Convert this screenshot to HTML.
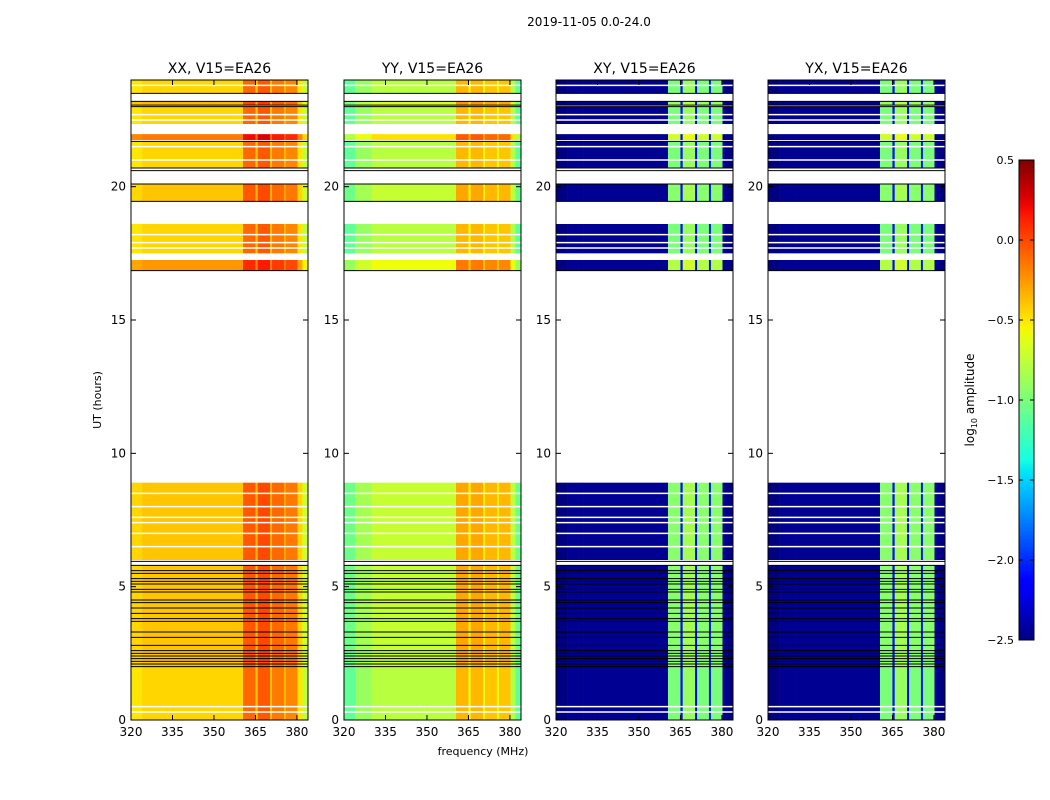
<!DOCTYPE html>
<html><head><meta charset="utf-8"><style>
body{margin:0;background:#fff;}
svg{display:block;font-family:"DejaVu Sans","Liberation Sans",sans-serif;}
</style></head><body>
<svg id="fig" width="1050" height="800" viewBox="0 0 1050 800"></svg>
<script>
// ---- data ----
const freqEdges = [320,324,330,360.5,365,365.8,370.3,371,375.3,376,380.2,382,384];
const panelTitles = ["XX, V15=EA26","YY, V15=EA26","XY, V15=EA26","YX, V15=EA26"];
const valsXX = [-0.5,-0.45,-0.45,-0.1,-0.4,-0.05,-0.4,-0.15,-0.35,-0.2,-0.5,-0.75];
const valsYY = [-1.1,-0.9,-0.78,-0.35,-0.6,-0.35,-0.6,-0.4,-0.6,-0.4,-0.8,-1.1];
const valsXY = [-2.5,-2.45,-2.45,-1.0,-2.1,-0.9,-2.2,-1.0,-2.1,-1.0,-2.45,-2.5];
const valsYX = [-2.5,-2.45,-2.45,-1.0,-2.1,-0.9,-2.2,-1.0,-2.1,-1.0,-2.45,-2.5];
const blockStart = [0,2.0,6.0,16.85,17.5,19.45,20.7,21.75,22.35,23.06,23.5];
const blockEnd   = [2.0,5.8,8.9,17.25,18.6,20.1,21.7,21.97,23.0,23.2,24];
const blockOffset= [0,0.05,0.05,0.2,0,0.05,0,0.3,0,0.1,0];
const whiteLines = [0.3,0.5,6.5,7.0,7.4,7.6,8.0,8.5,17.7,17.9,18.2,21.0,21.5,22.5,22.7,23.8];
const blackLines = [2.0,2.1,2.2,2.3,2.4,2.5,2.6,2.8,3.1,3.3,3.7,3.8,4.0,4.2,4.4,4.5,4.8,4.9,5.1,5.2,5.3,5.5,5.6,5.8,5.95,16.85,19.45,20.1,20.6,20.7,21.7,23.0,23.06,23.2,23.5];
const yTicks = [0,5,10,15,20];
const xTicks = [320,335,350,365,380];
const cbTicks = [0.5,0.0,-0.5,-1.0,-1.5,-2.0,-2.5];
const panelVals = [valsXX,valsYY,valsXY,valsYX];

// ---- helpers ----
const NS="http://www.w3.org/2000/svg";
const svg=document.getElementById('fig');
function mk(tag,attrs,parent){const e=document.createElementNS(NS,tag);for(const k in attrs)e.setAttribute(k,attrs[k]);(parent||svg).appendChild(e);return e;}
function clamp(v){return Math.max(0,Math.min(1,v));}
function jet(t){t=clamp(t);
 const r=clamp(t<0.35?0:t<0.66?(t-0.35)/0.31:t<0.89?1:1-(t-0.89)/0.11*0.5);
 const g=clamp(t<0.125?0:t<0.375?(t-0.125)/0.25:t<0.64?1:t<0.91?1-(t-0.64)/0.27:0);
 const b=clamp(t<0.11?0.5+t/0.11*0.5:t<0.34?1:t<0.65?1-(t-0.34)/0.31:0);
 return `rgb(${Math.round(r*255)},${Math.round(g*255)},${Math.round(b*255)})`;}
function cmap(v){return jet((v+2.5)/3);}
const panelX=[131,344,556,768], panelW=177, plotTop=80, plotBottom=720;
function yScale(h){return plotBottom-(h/24)*(plotBottom-plotTop);}
function xScale(p,f){return panelX[p]+(f-320)/(384-320)*panelW;}

// title
const st=mk('text',{x:589,y:26,'font-size':12,'text-anchor':'middle'});
st.textContent="2019-11-05 0.0-24.0";



for(let p=0;p<4;p++){
 const g=mk('g',{});
 
 
 const vals=panelVals[p];
 for(let b=0;b<blockStart.length;b++){
  const y0=yScale(blockEnd[b]), y1=yScale(blockStart[b]);
  for(let s=0;s<vals.length;s++){
   const x0=xScale(p,freqEdges[s]), x1=xScale(p,freqEdges[s+1]);
   let v=vals[s]+(p<2||vals[s]>-2?blockOffset[b]:0);
   const r=mk('rect',{x:x0,y:y0,width:x1-x0+0.3,height:y1-y0,fill:cmap(v)},g);
   
   
  }
 }
 for(const h of whiteLines){
  const l=mk('line',{x1:panelX[p],x2:panelX[p]+panelW,y1:yScale(h),y2:yScale(h),stroke:'#fff','stroke-width':1.5},g);
  
  
 }
 for(const h of blackLines){
  const l=mk('line',{x1:panelX[p],x2:panelX[p]+panelW,y1:yScale(h),y2:yScale(h),stroke:'#000','stroke-width':1},g);
  
  
 }
 const fr=mk('rect',{x:panelX[p],y:plotTop,width:panelW,height:plotBottom-plotTop,fill:'none',stroke:'#000','stroke-width':1},g);
 
 
 for(const t of yTicks){
  const y=yScale(t);
  mk('line',{x1:panelX[p],x2:panelX[p]+5,y1:y,y2:y,stroke:'#000'},g);
  mk('line',{x1:panelX[p]+panelW-5,x2:panelX[p]+panelW,y1:y,y2:y,stroke:'#000'},g);
  const tx=mk('text',{x:panelX[p]-5,y:y+4,'font-size':12,'text-anchor':'end'},g);
  tx.textContent=t;
  
  
 }
 for(const f of xTicks){
  const x=xScale(p,f);
  mk('line',{x1:x,x2:x,y1:plotBottom,y2:plotBottom-5,stroke:'#000'},g);
  mk('line',{x1:x,x2:x,y1:plotTop,y2:plotTop+5,stroke:'#000'},g);
  const tx=mk('text',{x:x,y:plotBottom+16,'font-size':12,'text-anchor':'middle'},g);
  tx.textContent=f;
  
  
 }
 const tt=mk('text',{x:panelX[p]+panelW/2,y:73,'font-size':14,'text-anchor':'middle'},g);
 tt.textContent=panelTitles[p];
 
 
}
const xl=mk('text',{x:483,y:755,'font-size':11,'text-anchor':'middle'});
xl.textContent="frequency (MHz)";


const yl=mk('text',{x:101,y:400,'font-size':11,'text-anchor':'middle',transform:'rotate(-90 101 400)'});
yl.textContent="UT (hours)";



// colorbar
const defs=mk('defs',{});
const grad=mk('linearGradient',{id:'cg',x1:0,y1:1,x2:0,y2:0},defs);
for(let i=0;i<=40;i++){mk('stop',{offset:i/40,'stop-color':jet(i/40)},grad);}
const cbTop=160, cbBot=640, cbX=1019, cbW=15;
const cb=mk('rect',{x:cbX,y:cbTop,width:cbW,height:cbBot-cbTop,fill:'url(#cg)',stroke:'#000','stroke-width':1});


for(const t of cbTicks){
 const y=cbBot-(t+2.5)/3*(cbBot-cbTop);
 mk('line',{x1:cbX,x2:cbX+4,y1:y,y2:y,stroke:'#000'});
 mk('line',{x1:cbX+cbW-4,x2:cbX+cbW,y1:y,y2:y,stroke:'#000'});
 const tx=mk('text',{x:cbX-5,y:y+4,'font-size':11,'text-anchor':'end'});
 tx.textContent=(t<0?'\u2212':'')+Math.abs(t).toFixed(1);
 
 
}
const cl=mk('text',{x:974,y:400,'font-size':12,'text-anchor':'middle',transform:'rotate(-90 974 400)'});
cl.innerHTML='log<tspan font-size="8" dy="3">10</tspan><tspan dy="-3"> amplitude</tspan>';


</script>
</body></html>
